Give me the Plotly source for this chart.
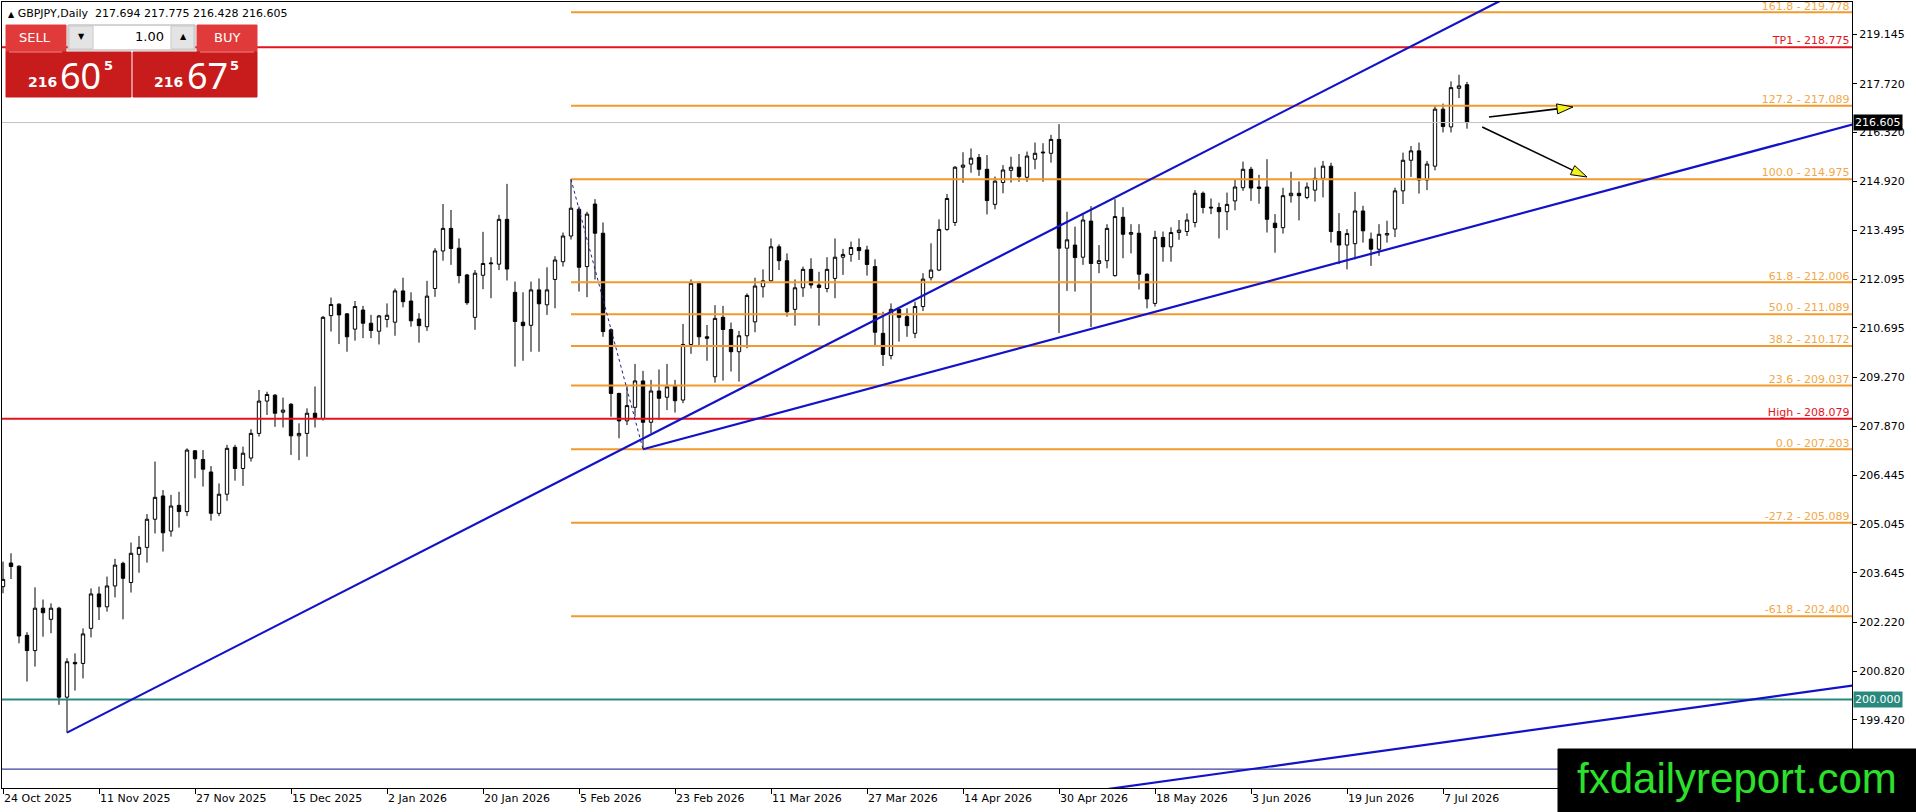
import plotly.graph_objects as go

# ---------------- data ----------------
tick_bars = [0, 12, 24, 36, 48, 60, 72, 84, 96, 108, 120, 132, 144, 156, 168, 180]
tick_dates = ["24 Oct 2025", "11 Nov 2025", "27 Nov 2025", "15 Dec 2025", "2 Jan 2026",
              "20 Jan 2026", "5 Feb 2026", "23 Feb 2026", "11 Mar 2026", "27 Mar 2026",
              "14 Apr 2026", "30 Apr 2026", "18 May 2026", "3 Jun 2026", "19 Jun 2026",
              "7 Jul 2026"]

price_ticks = [219.145, 217.720, 216.320, 214.920, 213.495, 212.095, 210.695, 209.270,
               207.870, 206.445, 205.045, 203.645, 202.220, 200.820, 199.420]

opens = [203.25, 203.93, 203.84, 201.85, 201.41, 202.63, 202.31, 202.63, 200.07, 201.07,
         201.04, 202.05, 203.04, 202.67, 203.27, 203.92, 203.37, 204.18, 204.38, 205.19,
         205.86, 204.85, 205.59, 205.41, 207.16, 206.91, 206.55, 205.36, 205.91, 207.26,
         206.65, 206.95, 207.66, 208.59, 208.76, 208.27, 208.50, 207.59, 207.66, 208.24,
         208.09, 211.05, 211.38, 211.10, 210.66, 211.21, 210.83, 210.60, 210.94, 210.86,
         211.76, 211.47, 210.95, 210.73, 211.83, 212.91, 213.56, 212.99, 212.22, 211.00,
         212.21, 212.54, 212.53, 213.82, 211.72, 210.86, 210.77, 211.79, 211.36, 212.09,
         212.60, 213.34, 214.11, 212.46, 214.26, 213.42, 210.64, 208.81, 208.02, 208.41,
         209.17, 207.98, 208.88, 208.70, 209.02, 208.62, 210.22, 211.98, 210.44, 209.29,
         211.00, 210.65, 210.01, 210.47, 210.87, 211.88, 212.05, 213.03, 212.63, 211.23,
         211.85, 212.38, 211.93, 211.83, 212.12, 212.73, 212.81, 213.01, 212.94, 212.46,
         210.54, 209.90, 211.23, 211.02, 210.54, 211.31, 212.14, 212.36, 213.53, 213.73,
         215.32, 215.41, 215.60, 215.26, 214.25, 214.88, 215.23, 215.32, 215.03, 215.55,
         215.73, 215.72, 216.12, 212.99, 213.08, 212.73, 213.77, 212.55, 212.63, 212.20,
         213.88, 213.39, 213.42, 212.24, 211.40, 213.30, 213.03, 213.44, 213.47, 213.73,
         214.57, 214.17, 214.16, 214.04, 214.35, 214.73, 215.26, 214.75, 214.75, 213.71,
         213.58, 214.50, 214.57, 214.45, 214.66, 215.00, 215.35, 213.47, 213.08, 213.12,
         214.06, 213.25, 212.96, 213.37, 213.54, 214.64, 215.52, 215.79, 214.95, 215.35,
         216.99, 216.48, 217.59, 217.694]
highs = [203.97, 204.21, 203.86, 201.94, 203.23, 202.88, 202.77, 202.67, 201.19, 201.33,
         202.05, 203.20, 203.25, 203.54, 204.05, 203.97, 204.52, 204.71, 205.34, 206.85,
         206.03, 205.89, 205.98, 207.23, 207.18, 207.18, 206.72, 206.22, 207.33, 207.33,
         207.28, 207.78, 208.91, 208.86, 208.79, 208.69, 208.53, 207.95, 208.38, 209.01,
         211.04, 211.57, 211.40, 211.12, 211.47, 211.33, 211.07, 211.07, 211.40, 211.83,
         212.14, 211.72, 211.12, 212.05, 212.99, 214.26, 214.09, 213.27, 212.25, 212.36,
         213.46, 212.73, 213.95, 214.84, 212.03, 211.72, 212.03, 212.12, 212.44, 212.76,
         213.44, 214.975, 214.19, 214.04, 214.40, 213.73, 210.68, 208.83, 209.03, 209.66,
         209.46, 209.20, 209.50, 209.66, 209.20, 210.81, 212.09, 212.03, 210.78, 211.35,
         211.33, 210.85, 210.61, 211.69, 212.14, 212.38, 213.27, 213.10, 212.84, 212.09,
         212.46, 212.70, 212.31, 212.73, 213.27, 212.97, 213.18, 213.27, 213.06, 212.67,
         211.16, 211.40, 211.26, 211.26, 211.45, 212.27, 213.13, 213.82, 214.55, 215.35,
         215.75, 215.86, 215.70, 215.67, 215.05, 215.38, 215.62, 215.70, 215.77, 216.03,
         216.01, 216.25, 216.56, 214.04, 213.61, 213.99, 214.20, 213.08, 213.68, 214.40,
         214.17, 213.68, 213.68, 212.27, 213.49, 213.47, 213.59, 213.80, 213.99, 214.66,
         214.62, 214.42, 214.30, 214.59, 214.97, 215.48, 215.33, 215.10, 215.55, 213.97,
         214.73, 215.19, 214.91, 214.88, 215.31, 215.50, 215.45, 214.00, 213.54, 214.61,
         214.21, 213.44, 213.68, 213.78, 214.73, 215.74, 215.93, 216.03, 215.50, 217.11,
         217.15, 217.79, 217.98, 217.775]
lows = [203.06, 203.47, 201.62, 200.52, 200.95, 201.81, 201.91, 199.85, 199.05, 200.26,
        200.61, 201.79, 202.29, 202.53, 202.94, 202.31, 203.08, 203.65, 203.94, 204.78,
        204.26, 204.69, 204.95, 205.28, 206.37, 206.13, 205.15, 205.28, 205.72, 206.30,
        206.15, 206.85, 207.57, 208.19, 207.85, 207.83, 207.04, 206.89, 206.99, 207.83,
        208.03, 210.59, 210.23, 210.01, 210.33, 210.40, 210.40, 210.22, 210.71, 210.47,
        211.29, 210.73, 210.27, 210.61, 211.59, 212.63, 212.51, 211.98, 211.36, 210.64,
        211.81, 211.55, 212.36, 212.06, 209.58, 209.75, 210.01, 210.01, 211.07, 211.26,
        212.46, 213.24, 211.74, 211.58, 212.09, 210.44, 208.14, 207.52, 207.90, 208.14,
        207.203, 207.66, 208.05, 208.33, 208.26, 208.53, 209.95, 210.20, 209.75, 209.12,
        209.18, 209.44, 209.15, 210.11, 210.57, 211.57, 212.00, 212.36, 211.02, 210.76,
        211.59, 211.83, 210.76, 211.72, 211.55, 212.22, 212.60, 212.65, 212.20, 210.16,
        209.60, 209.79, 210.30, 210.44, 210.40, 211.18, 212.06, 212.33, 213.49, 213.63,
        214.87, 215.16, 215.07, 213.96, 214.11, 214.57, 214.88, 214.90, 214.90, 215.26,
        214.90, 215.45, 210.55, 211.76, 211.74, 212.51, 210.72, 212.27, 212.41, 212.17,
        212.70, 212.84, 211.80, 211.26, 211.31, 212.60, 212.60, 213.23, 213.34, 213.59,
        213.99, 213.97, 213.27, 213.51, 214.08, 214.64, 214.35, 214.27, 213.44, 212.86,
        213.41, 214.30, 213.79, 214.40, 214.33, 214.45, 213.15, 212.53, 212.38, 212.67,
        213.15, 212.48, 212.77, 213.15, 213.31, 214.26, 215.04, 214.56, 214.66, 215.23,
        216.32, 216.32, 217.31, 216.428]
closes = [203.46, 203.83, 201.83, 201.41, 202.63, 202.50, 202.63, 200.07, 201.09, 201.03,
          201.89, 203.04, 202.67, 203.27, 203.87, 203.49, 204.21, 204.38, 205.19, 205.82,
          204.80, 205.57, 205.41, 207.18, 206.93, 206.63, 205.36, 205.91, 207.23, 206.65,
          207.09, 207.66, 208.59, 208.78, 208.24, 208.33, 207.59, 207.66, 208.24, 208.09,
          211.00, 211.37, 211.07, 210.44, 211.31, 210.83, 210.62, 211.04, 211.06, 211.76,
          211.45, 210.90, 210.76, 211.61, 212.91, 213.56, 212.98, 212.20, 211.42, 212.27,
          212.55, 212.56, 213.82, 212.39, 210.88, 210.76, 211.79, 211.39, 211.79, 212.65,
          213.34, 214.14, 212.44, 213.97, 213.42, 210.59, 208.81, 208.02, 208.46, 209.17,
          207.98, 208.88, 208.67, 209.00, 208.60, 210.22, 211.98, 210.44, 210.40, 210.97,
          210.65, 210.01, 210.47, 211.63, 211.90, 212.05, 213.03, 212.63, 211.16, 211.85,
          212.38, 211.93, 211.86, 212.38, 212.73, 212.81, 213.01, 212.92, 212.52, 210.57,
          209.93, 211.23, 211.00, 210.76, 211.31, 212.10, 212.36, 213.53, 214.42, 215.32,
          215.38, 215.58, 215.26, 214.36, 214.92, 215.24, 215.32, 215.05, 215.64, 215.72,
          215.75, 216.12, 212.99, 213.23, 212.72, 213.80, 212.55, 212.63, 213.56, 213.90,
          213.39, 213.44, 212.24, 211.53, 213.30, 213.03, 213.44, 213.51, 213.80, 214.57,
          214.16, 214.15, 214.04, 214.25, 214.75, 215.26, 214.72, 214.71, 213.82, 213.58,
          214.50, 214.57, 214.50, 214.75, 215.00, 215.35, 213.47, 213.08, 213.41, 214.06,
          213.49, 212.96, 213.39, 213.41, 214.64, 215.52, 215.79, 214.95, 215.41, 216.99,
          216.49, 217.61, 217.66, 216.605]
bars = list(range(len(opens)))

# Fibonacci retracement drawn from the Feb high (bar 71) to the Feb low (bar 80)
fib_ratios = [161.8, 127.2, 100.0, 61.8, 50.0, 38.2, 23.6, 0.0, -27.2, -61.8]
fib_prices = [219.778, 217.089, 214.975, 212.006, 211.089, 210.172, 209.037, 207.203,
              205.089, 202.400]
fib_from_bar = 71
fib_swing = [(71, 214.975), (80, 207.203)]

red_names = ["TP1", "High"]
red_prices = [218.775, 208.079]
round_level = 200.000
last_price = 216.605
lower_hline = 198.0

# trend lines: two anchor points each (bar index, price), drawn as rays
trend_lines = [
    [(8, 199.05), (186.75, 220.06)],
    [(80, 207.203), (231.1, 216.543)],
    [(155.9, 197.995), (231.1, 200.40)],
]
trend_from = [8, 80, 120]

# hand drawn arrows: tail -> tip
arrows = [
    [(185.75, 216.765), (196.25, 217.053)],
    [(184.9, 216.477), (198.0, 215.038)],
]

header = "GBPJPY,Daily  217.694 217.775 216.428 216.605"
sell_quote = ("216", "60", "5")
buy_quote = ("216", "67", "5")
lot_size = "1.00"

# ---------------- layout constants ----------------
FIG_W, FIG_H = 1916, 812
ML, MR, MT, MB = 2, 64, 2, 24
PLOT_W, PLOT_H = FIG_W - ML - MR, FIG_H - MT - MB
X_RANGE = [-0.125, 231.125]
Y_RANGE = [197.456, 220.074]
BAR_PX = PLOT_W / (X_RANGE[1] - X_RANGE[0])
PRICE_PX = PLOT_H / (Y_RANGE[1] - Y_RANGE[0])

FONT = "DejaVu Sans"
ORANGE = "#F29A2E"
ORANGE_TXT = "#F2A84A"
RED = "#E2141E"
BLUE = "#1212C8"
TEAL = "#2A897E"


def fx(px):
    return (px - ML) / PLOT_W


def fy(py):
    return (FIG_H - MB - py) / PLOT_H


def ray(p0, p1, x_start, x_end):
    slope = (p1[1] - p0[1]) / (p1[0] - p0[0])
    return [x_start, x_end], [p0[1] + slope * (x_start - p0[0]), p0[1] + slope * (x_end - p0[0])]


fig = go.Figure()

fig.add_trace(go.Candlestick(
    x=bars, open=opens, high=highs, low=lows, close=closes,
    increasing=dict(fillcolor="white", line=dict(color="black", width=1)),
    decreasing=dict(fillcolor="black", line=dict(color="black", width=1)),
    whiskerwidth=0, showlegend=False, hoverinfo="skip",
))

x_end = X_RANGE[1] + 2


def hline(y, color, width, x0=X_RANGE[0] - 1):
    fig.add_trace(go.Scatter(x=[x0, x_end], y=[y, y], mode="lines",
                             line=dict(color=color, width=width),
                             showlegend=False, hoverinfo="skip"))


hline(last_price, "#C4C4C4", 1)
hline(lower_hline, "#101080", 1)
hline(round_level, TEAL, 2)
for p in red_prices:
    hline(p, RED, 2)
for p in fib_prices:
    hline(p, ORANGE, 2, x0=fib_from_bar)

# dotted swing line of the fibo tool
fig.add_trace(go.Scatter(x=[fib_swing[0][0], fib_swing[1][0]], y=[fib_swing[0][1], fib_swing[1][1]],
                         mode="lines", line=dict(color="#1E1E8C", width=1, dash="dot"),
                         showlegend=False, hoverinfo="skip"))

for (p0, p1), xs in zip(trend_lines, trend_from):
    tx, ty = ray(p0, p1, xs, x_end)
    fig.add_trace(go.Scatter(x=tx, y=ty, mode="lines", line=dict(color=BLUE, width=2.2),
                             showlegend=False, hoverinfo="skip"))

# level labels, right aligned just above each line (clipped by the plot area)
lbl_x = X_RANGE[1] - 0.3
fig.add_trace(go.Scatter(
    x=[lbl_x] * len(fib_prices), y=fib_prices, mode="text",
    text=[f"{r:.1f} - {p:.3f}" for r, p in zip(fib_ratios, fib_prices)],
    textposition="top left", textfont=dict(family=FONT, size=11, color=ORANGE_TXT),
    showlegend=False, hoverinfo="skip"))
fig.add_trace(go.Scatter(
    x=[lbl_x] * len(red_prices), y=red_prices, mode="text",
    text=[f"{n} - {p:.3f}" for n, p in zip(red_names, red_prices)],
    textposition="top left", textfont=dict(family=FONT, size=11, color=RED),
    showlegend=False, hoverinfo="skip"))

# arrows: black shaft and a yellow head built in pixel space
HEAD_LEN, HEAD_HALF = 16, 5
for (tail, tip) in arrows:
    dx = (tip[0] - tail[0]) * BAR_PX
    dy = (tip[1] - tail[1]) * PRICE_PX
    n = (dx ** 2 + dy ** 2) ** 0.5
    ux, uy = dx / n, dy / n
    bx = tip[0] - ux * HEAD_LEN / BAR_PX
    by = tip[1] - uy * HEAD_LEN / PRICE_PX
    px_, py_ = -uy * HEAD_HALF, ux * HEAD_HALF
    fig.add_trace(go.Scatter(x=[tail[0], bx], y=[tail[1], by], mode="lines",
                             line=dict(color="black", width=1.6),
                             showlegend=False, hoverinfo="skip"))
    fig.add_trace(go.Scatter(
        x=[tip[0], bx + px_ / BAR_PX, bx - px_ / BAR_PX, tip[0]],
        y=[tip[1], by + py_ / PRICE_PX, by - py_ / PRICE_PX, tip[1]],
        mode="lines", fill="toself", fillcolor="#F4F21E",
        line=dict(color="black", width=1), showlegend=False, hoverinfo="skip"))

# ---------------- trade panel (pixel positioned) ----------------
shapes = []


def rect(x0, y0, x1, y1, fill, line=None):
    shapes.append(dict(type="rect", xref="paper", yref="paper",
                       x0=fx(x0), x1=fx(x1), y0=fy(y1), y1=fy(y0),
                       fillcolor=fill, line=dict(color=line or fill, width=1), layer="above"))


rect(6, 25, 66, 52, "#E03A3A")
rect(197, 25, 257, 52, "#E03A3A")
rect(6, 52, 131, 97, "#C81B1B")
rect(133, 52, 257, 97, "#C81B1B")
rect(68, 25, 195, 50, "white", "#A8A8A8")
rect(69, 26, 93, 49, "#E4E4E4", "#C8C8C8")
rect(171, 26, 194, 49, "#E4E4E4", "#C8C8C8")
shapes.append(dict(type="line", xref="paper", yref="paper", x0=fx(9), x1=fx(62),
                   y0=fy(52), y1=fy(52), line=dict(color="#F08A8A", width=1), layer="above"))
shapes.append(dict(type="line", xref="paper", yref="paper", x0=fx(200), x1=fx(254),
                   y0=fy(52), y1=fy(52), line=dict(color="#F08A8A", width=1), layer="above"))

# watermark box
rect(1558, 749, 1916, 812, "black")

annotations = []


def label(x, y, text, size, color="white", family=FONT, xanchor="center", **kw):
    annotations.append(dict(xref="paper", yref="paper", x=fx(x), y=fy(y), text=text,
                            showarrow=False, xanchor=xanchor, yanchor="middle",
                            font=dict(family=family, size=size, color=color), **kw))


label(6, 13, "<span style='font-size:8px'>▲</span> " + header, 11, "black", xanchor="left")
label(35, 38, "SELL", 13)
label(227, 38, "BUY", 13)
label(81, 37, "▼", 8, "black")
label(183, 37, "▲", 8, "black")
label(166, 37, lot_size, 13, "black", xanchor="right")
for (big_l, big, small), x_small, x_big, x_sup in [(sell_quote, 42, 80, 108), (buy_quote, 168, 207, 235)]:
    label(x_small, 82, f"<b>{big_l}</b>", 14)
    label(x_big, 75, big, 36, family="Noto Sans")
    label(x_sup, 66, f"<b>{small}</b>", 13)

label(1737, 778, "fxdailyreport.com", 42, "#2CE02C", family="Liberation Sans")

# right-edge price boxes
for price, bg in [(last_price, "black"), (round_level, TEAL)]:
    annotations.append(dict(xref="paper", yref="y", x=1.0, y=price, text=f"{price:.3f}",
                            showarrow=False, xanchor="left", yanchor="middle", xshift=1,
                            font=dict(family=FONT, size=11, color="white"),
                            bgcolor=bg, borderpad=1))

fig.update_layout(
    width=FIG_W, height=FIG_H,
    margin=dict(l=ML, r=MR, t=MT, b=MB),
    paper_bgcolor="white", plot_bgcolor="white",
    boxgap=0.4,
    showlegend=False,
    shapes=shapes, annotations=annotations,
    xaxis=dict(range=X_RANGE, tickvals=tick_bars, ticktext=tick_dates,
               ticklabelposition="outside right", ticks="outside", ticklen=5, tickcolor="black",
               showline=True, linecolor="black", linewidth=1, mirror=True,
               showgrid=False, zeroline=False, rangeslider=dict(visible=False),
               tickfont=dict(family=FONT, size=11, color="black")),
    yaxis=dict(range=Y_RANGE, side="right", tickvals=price_ticks,
               ticktext=[f"{v:.3f}" for v in price_ticks],
               ticks="outside", ticklen=4, tickcolor="black",
               showline=True, linecolor="black", linewidth=1, mirror=True,
               showgrid=False, zeroline=False,
               tickfont=dict(family=FONT, size=11, color="black")),
)

fig.write_html("out.html", config={"displayModeBar": False},
               post_script="document.body.style.margin='0';document.body.style.overflow='hidden';")
